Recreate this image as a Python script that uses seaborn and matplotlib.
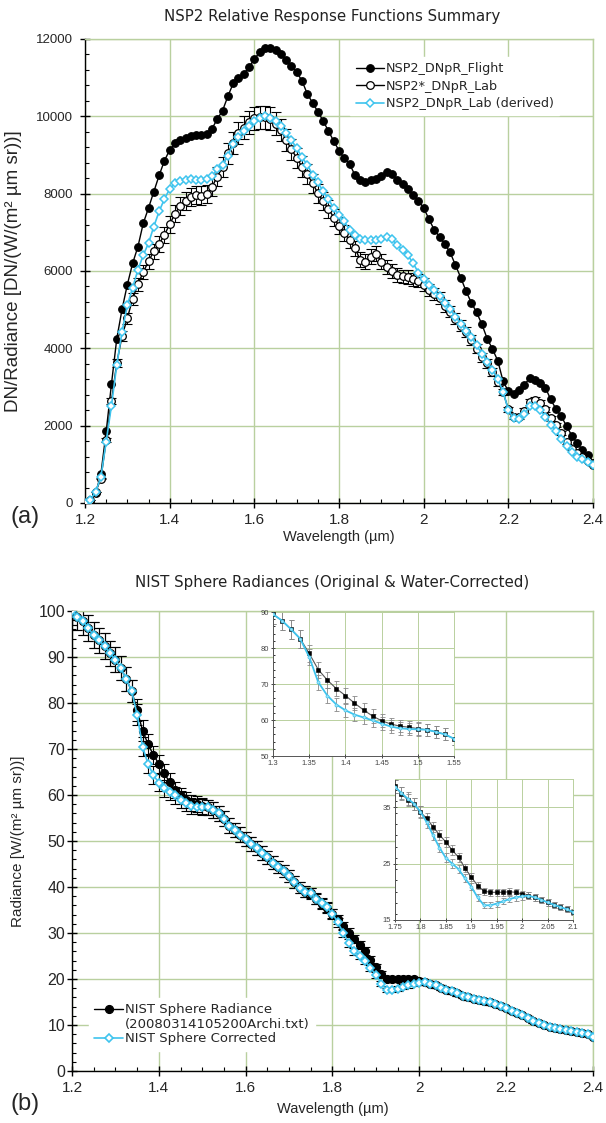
import matplotlib
matplotlib.use("Agg")
import matplotlib.pyplot as plt
from matplotlib.lines import Line2D
from matplotlib.ticker import MultipleLocator, FormatStrFormatter
import numpy as np
import seaborn as sns

sns.set_theme(style="white")
plt.rcParams["font.family"] = ["Liberation Sans", "DejaVu Sans"]

# wavelength grid (um)
wavelength = [1.2, 1.2125, 1.225, 1.2375, 1.25, 1.2625, 1.275, 1.2875, 1.3, 1.3125,
              1.325, 1.3375, 1.35, 1.3625, 1.375, 1.3875, 1.4, 1.4125, 1.425, 1.4375,
              1.45, 1.4625, 1.475, 1.4875, 1.5, 1.5125, 1.525, 1.5375, 1.55, 1.5625,
              1.575, 1.5875, 1.6, 1.6125, 1.625, 1.6375, 1.65, 1.6625, 1.675, 1.6875,
              1.7, 1.7125, 1.725, 1.7375, 1.75, 1.7625, 1.775, 1.7875, 1.8, 1.8125,
              1.825, 1.8375, 1.85, 1.8625, 1.875, 1.8875, 1.9, 1.9125, 1.925, 1.9375,
              1.95, 1.9625, 1.975, 1.9875, 2.0, 2.0125, 2.025, 2.0375, 2.05, 2.0625,
              2.075, 2.0875, 2.1, 2.1125, 2.125, 2.1375, 2.15, 2.1625, 2.175, 2.1875,
              2.2, 2.2125, 2.225, 2.2375, 2.25, 2.2625, 2.275, 2.2875, 2.3, 2.3125,
              2.325, 2.3375, 2.35, 2.3625, 2.375, 2.3875, 2.4]

# (a) relative response, DN per radiance
flight = [0, 60, 250, 750, 1850, 3080, 4250, 5010, 5650, 6200,
          6630, 7230, 7630, 8050, 8470, 8850, 9130, 9300, 9380, 9450,
          9480, 9510, 9505, 9530, 9680, 9930, 10150, 10520, 10850, 10990,
          11100, 11270, 11480, 11660, 11760, 11755, 11710, 11620, 11450, 11300,
          11140, 10920, 10580, 10350, 10120, 9880, 9620, 9360, 9110, 8910,
          8770, 8480, 8350, 8290, 8360, 8380, 8460, 8570, 8500, 8360,
          8260, 8110, 7970, 7820, 7630, 7340, 7060, 6890, 6690, 6480,
          6150, 5830, 5480, 5180, 4930, 4620, 4250, 3980, 3680, 3150,
          2890, 2830, 2920, 3060, 3220, 3185, 3095, 2980, 2680, 2430,
          2240, 1990, 1740, 1550, 1370, 1240, 1040]
lab = [0, 86, 285, 630, 1630, 2640, 3620, 4320, 4780, 5280,
       5660, 5970, 6250, 6510, 6700, 6930, 7210, 7480, 7690, 7820,
       7910, 7970, 7950, 7990, 8180, 8440, 8690, 9050, 9310, 9570,
       9710, 9840, 9950, 9980, 9970, 9940, 9810, 9650, 9390, 9150,
       8920, 8700, 8500, 8270, 8010, 7800, 7610, 7380, 7170, 6990,
       6800, 6590, 6290, 6240, 6370, 6440, 6240, 6100, 5990, 5900,
       5860, 5840, 5780, 5750, 5640, 5510, 5400, 5310, 5100, 4950,
       4770, 4590, 4420, 4210, 3990, 3770, 3610, 3380, 3120, 2870,
       2420, 2230, 2230, 2390, 2610, 2660, 2580, 2420, 2190, 2020,
       1810, 1570, 1400, 1300, 1200, 1090, 980]
derived = [0, 86, 285, 670, 1590, 2520, 3570, 4430, 5120, 5570,
           6030, 6410, 6720, 7150, 7540, 7860, 8120, 8270, 8330, 8360,
           8370, 8360, 8340, 8370, 8460, 8630, 8750, 8980, 9290, 9460,
           9620, 9760, 9870, 9950, 10010, 9950, 9870, 9760, 9580, 9380,
           9180, 8940, 8750, 8490, 8290, 8060, 7860, 7620, 7440, 7280,
           7060, 6920, 6820, 6790, 6790, 6800, 6820, 6870, 6820, 6670,
           6540, 6410, 6200, 5960, 5780, 5640, 5500, 5350, 5160, 5010,
           4820, 4640, 4460, 4290, 4080, 3860, 3650, 3440, 3200, 2880,
           2400, 2190, 2160, 2310, 2500, 2500, 2410, 2230, 2010, 1870,
           1650, 1470, 1310, 1190, 1140, 1050, 980]
lab_rel_err = 0.03

# (b) NIST sphere radiance, W/(m2 um sr)
radiance = [100.0, 98.8, 97.8, 96.3, 94.8, 93.6, 92.4, 90.8, 89.4, 87.6,
            85.2, 82.6, 78.5, 74.0, 71.1, 68.7, 66.8, 64.7, 62.8, 61.1,
            59.8, 58.9, 58.3, 58.0, 57.6, 57.3, 56.7, 56.0, 54.8, 53.3,
            52.4, 51.4, 50.4, 49.4, 48.5, 47.4, 46.5, 45.3, 44.4, 43.4,
            42.4, 41.1, 39.8, 39.0, 38.7, 37.4, 36.3, 35.5, 34.1, 33.0,
            31.5, 30.1, 28.8, 27.4, 26.1, 24.2, 22.6, 21.1, 20.1, 19.9,
            19.9, 19.9, 20.0, 19.9, 19.6, 19.3, 19.0, 18.6, 18.1, 17.7,
            17.3, 16.9, 16.4, 16.0, 15.7, 15.4, 15.2, 14.9, 14.5, 14.1,
            13.6, 13.0, 12.6, 12.1, 11.6, 10.8, 10.4, 10.0, 9.6, 9.3,
            9.1, 9.0, 8.7, 8.4, 8.2, 8.0, 7.5]
corrected = [100.0, 98.8, 97.8, 96.3, 94.8, 93.6, 92.4, 90.8, 89.4, 87.6,
             85.2, 82.6, 77.5, 70.5, 66.8, 64.3, 62.7, 61.5, 60.7, 59.9,
             59.0, 58.2, 57.7, 57.5, 57.4, 57.3, 56.7, 56.0, 54.8, 53.3,
             52.4, 51.4, 50.4, 49.4, 48.5, 47.4, 46.5, 45.3, 44.4, 43.4,
             42.4, 41.1, 39.8, 39.0, 38.6, 37.5, 36.5, 35.6, 34.2, 32.3,
             30.0, 27.8, 26.0, 25.0, 24.0, 22.4, 20.9, 19.0, 17.6, 17.6,
             17.9, 18.3, 18.7, 19.0, 19.2, 19.3, 19.0, 18.6, 18.1, 17.7,
             17.3, 16.9, 16.4, 16.0, 15.7, 15.4, 15.2, 14.9, 14.5, 14.1,
             13.6, 13.0, 12.6, 12.1, 11.6, 10.8, 10.4, 10.0, 9.6, 9.3,
             9.1, 9.0, 8.7, 8.4, 8.2, 8.0, 7.5]
rad_rel_err = 0.03

GRID = "#b9d09f"
CYAN = "#3ec4ee"
VERDANA = "DejaVu Sans"

wl = np.array(wavelength)
flight = np.array(flight)
lab = np.array(lab)
derived = np.array(derived)
radiance = np.array(radiance)
corrected = np.array(corrected)


def style_axes(ax, xmaj, xmin, ymaj, ymin, xsize, ysize, lw=1.0, tick=7):
    ax.set_facecolor("white")
    ax.grid(True, which="major", color=GRID, linewidth=lw)
    ax.set_axisbelow(True)
    ax.xaxis.set_major_locator(MultipleLocator(xmaj))
    if xmin:
        ax.xaxis.set_minor_locator(MultipleLocator(xmin))
    if ymaj:
        ax.yaxis.set_major_locator(MultipleLocator(ymaj))
    ax.yaxis.set_minor_locator(MultipleLocator(ymin))
    ax.xaxis.set_major_formatter(FormatStrFormatter("%g"))
    for s in ("left", "bottom"):
        ax.spines[s].set_color("black")
        ax.spines[s].set_linewidth(lw)
    for s in ("top", "right"):
        ax.spines[s].set_color(GRID)
        ax.spines[s].set_linewidth(lw)
    ax.tick_params(which="both", bottom=True, left=True, top=False, right=False,
                   color="black")
    ax.tick_params(which="major", direction="inout", length=tick, width=lw)
    ax.tick_params(which="minor", direction="in", length=tick * 0.45, width=lw * 0.8)
    ax.tick_params(axis="x", labelsize=xsize)
    ax.tick_params(axis="y", labelsize=ysize)


fig = plt.figure(figsize=(6.06, 11.23), dpi=100)

# ---------------- (a) ----------------
ax1 = fig.add_axes([0.1403, 0.5521, 0.8383, 0.4132])
style_axes(ax1, 0.2, 0.05, 2000, 400, 11, 9.5)
ax1.tick_params(axis="y", pad=5)
ax1.tick_params(axis="x", pad=4)

sns.lineplot(x=wl, y=flight, ax=ax1, color="black", linewidth=1, marker="o",
             markersize=5.5, markerfacecolor="black", markeredgecolor="black",
             mew=0.8, label="NSP2_DNpR_Flight", errorbar=None, zorder=3)
ax1.errorbar(wl, lab, yerr=lab * lab_rel_err, fmt="none", ecolor="black",
             elinewidth=0.8, capsize=3.8, capthick=0.8, zorder=2)
sns.lineplot(x=wl, y=lab, ax=ax1, color="black", linewidth=1, marker="o",
             markersize=5.5, markerfacecolor="white", markeredgecolor="black",
             mew=0.9, label="NSP2*_DNpR_Lab", errorbar=None, zorder=3)
sns.lineplot(x=wl, y=derived, ax=ax1, color=CYAN, linewidth=1.2, marker="D",
             markersize=3.8, markerfacecolor="white", markeredgecolor=CYAN,
             mew=1.1, label="NSP2_DNpR_Lab (derived)", errorbar=None, zorder=4)

ax1.set_xlim(1.2, 2.4)
ax1.set_ylim(0, 12000)
ax1.set_xlabel("Wavelength (µm)", fontsize=10.5)
ax1.set_ylabel("DN/Radiance [DN/(W/(m² µm sr))]", fontsize=13.5)
ax1.xaxis.set_label_coords(0.5, -0.058)
ax1.yaxis.set_label_coords(-0.125, 0.5)
ax1.legend(loc="upper left", bbox_to_anchor=(0.51, 0.975), frameon=True,
           fancybox=False, edgecolor="white", facecolor="white", framealpha=1,
           prop={"family": VERDANA, "size": 9.2}, handlelength=2.2,
           handletextpad=0.15, labelspacing=0.35, borderpad=0.4)

fig.text(332 / 606, 1 - 16 / 1123, "NSP2 Relative Response Functions Summary",
         ha="center", va="center", fontsize=10.8, family=VERDANA, color="#222")
fig.text(25 / 606, 1 - 517 / 1123, "(a)", ha="center", va="center", fontsize=17)

# ---------------- (b) ----------------
ax2 = fig.add_axes([0.1188, 0.0463, 0.8597, 0.4096])
style_axes(ax2, 0.2, 0.05, 10, 2, 11, 11.5)
ax2.tick_params(axis="y", pad=1.5)
ax2.tick_params(axis="x", pad=4)

ax2.errorbar(wl, radiance, yerr=radiance * rad_rel_err, fmt="none", ecolor="black",
             elinewidth=0.8, capsize=3.8, capthick=0.8, zorder=2)
ax2.errorbar(wl, corrected, yerr=corrected * rad_rel_err, fmt="none", ecolor="black",
             elinewidth=0.8, capsize=3.8, capthick=0.8, zorder=2)
sns.lineplot(x=wl, y=radiance, ax=ax2, color="black", linewidth=1, marker="o",
             markersize=5.8, markerfacecolor="black", markeredgecolor="black",
             mew=0.8, label="NIST Sphere Radiance", errorbar=None, zorder=3)
sns.lineplot(x=wl, y=corrected, ax=ax2, color=CYAN, linewidth=1.2, marker="D",
             markersize=4, markerfacecolor="white", markeredgecolor=CYAN,
             mew=1.2, label="NIST Sphere Corrected", errorbar=None, zorder=4)

ax2.set_xlim(1.2, 2.4)
ax2.set_ylim(0, 100)
ax2.set_xlabel("Wavelength (µm)", fontsize=10.5)
ax2.set_ylabel("Radiance [W/(m² µm sr))]", fontsize=11)
ax2.xaxis.set_label_coords(0.5, -0.068)
ax2.yaxis.set_label_coords(-0.09, 0.5)

# second line of the first legend label sits under its text, not beside a marker
handles, labels = ax2.get_legend_handles_labels()
blank = Line2D([], [], linestyle="none", marker=None)
handles = [handles[0], blank, handles[1]]
labels = [labels[0], "(20080314105200Archi.txt)", labels[1]]
ax2.legend(handles, labels, loc="lower left", bbox_to_anchor=(0.02, 0.03),
           frameon=True, fancybox=False, edgecolor="white", facecolor="white",
           framealpha=1, prop={"family": VERDANA, "size": 9.5}, handlelength=2.2,
           handletextpad=0.15, labelspacing=0.12, borderpad=0.4)

fig.text(332 / 606, 1 - 582 / 1123,
         "NIST Sphere Radiances (Original & Water-Corrected)",
         ha="center", va="center", fontsize=10.8, family=VERDANA, color="#222")
fig.text(25 / 606, 1 - 1104 / 1123, "(b)", ha="center", va="center", fontsize=17)


# ---------------- insets ----------------
def draw_inset(rect, xlim, ylim, xmaj, yticks, ymin):
    ins = fig.add_axes(rect)
    style_axes(ins, xmaj, None, None, ymin, 5.5, 5.5, lw=0.7, tick=3)
    ins.set_yticks(yticks)
    ins.yaxis.set_minor_locator(MultipleLocator(ymin))
    ins.tick_params(colors="#444", pad=1.5)
    for s in ("left", "bottom"):
        ins.spines[s].set_color("#555")
    ins.errorbar(wl, radiance, yerr=radiance * rad_rel_err, fmt="none",
                 ecolor="#888", elinewidth=0.6, capsize=1.8, capthick=0.6, zorder=2)
    ins.errorbar(wl, corrected, yerr=corrected * rad_rel_err, fmt="none",
                 ecolor="#888", elinewidth=0.6, capsize=1.8, capthick=0.6, zorder=2)
    sns.lineplot(x=wl, y=radiance, ax=ins, color="#555", linewidth=0.8, marker="s",
                 markersize=2.6, markerfacecolor="black", markeredgecolor="black",
                 mew=0.4, errorbar=None, zorder=3)
    sns.lineplot(x=wl, y=corrected, ax=ins, color=CYAN, linewidth=1.3, marker="o",
                 markersize=2.2, markerfacecolor="#9fe4f7", markeredgecolor=CYAN,
                 mew=0.5, errorbar=None, zorder=4)
    ins.set_xlim(*xlim)
    ins.set_ylim(*ylim)
    ins.set_xlabel("")
    ins.set_ylabel("")
    return ins


draw_inset([0.4505, 0.3268, 0.2987, 0.1282], (1.3, 1.55), (50, 90), 0.05,
           [50, 60, 70, 80, 90], 2)
draw_inset([0.6518, 0.1808, 0.2937, 0.1256], (1.75, 2.1), (15, 40), 0.05,
           [15, 25, 35], 2)

fig.savefig("out.png", dpi=100)
